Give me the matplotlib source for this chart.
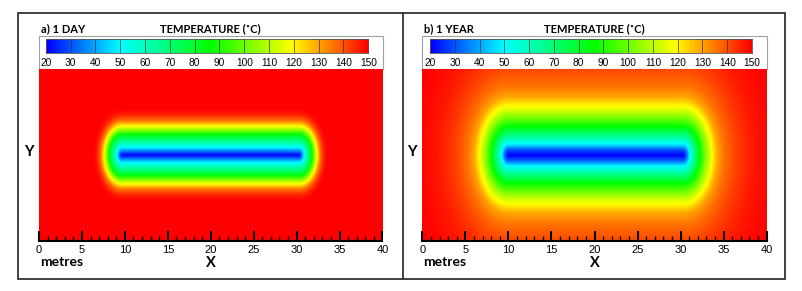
import numpy as np
import matplotlib
matplotlib.use("Agg")
import matplotlib.pyplot as plt
from matplotlib.colors import LinearSegmentedColormap
from matplotlib.patches import Rectangle
from matplotlib.lines import Line2D

# --- data ---
panel_titles = ["a) 1 DAY", "b) 1 YEAR"]
cbar_ticks = [20, 30, 40, 50, 60, 70, 80, 90, 100, 110, 120, 130, 140, 150]
x_ticks = [0, 5, 10, 15, 20, 25, 30, 35, 40]

# temperature vs. distance from the heater line (m -> degC)
day_dist = [0, 0.3, 0.9, 1.6, 2.3, 2.8, 3.3, 4.0, 4.7, 5.4, 8.0]
day_temp = [20, 30, 50, 66, 82, 100, 117, 136, 146, 150, 150]
year_dist = [0, 0.6, 1.3, 2.2, 3.2, 4.3, 5.5, 6.8, 8.1, 10, 12, 14, 17, 20, 30]
year_temp = [20, 30, 50, 66, 84, 101, 117, 130, 136, 141, 144.5, 147, 149, 150, 150]

# heater segment (x from, x to, y) and stretch of isotherms beyond its tips
day_heater = [9.6, 30.3, 10.0]
year_heater = [10.0, 30.3, 10.0]
day_stretch = 1.65
year_stretch = 1.7

W, H = 803, 291
fig = plt.figure(figsize=(W / 100, H / 100), dpi=100)

cmap = LinearSegmentedColormap.from_list("tec", [
    (0.0, (0, 0, 1)),
    ((50 - 20) / 130, (0, 1, 1)),
    ((86 - 20) / 130, (0, 1, 0)),
    ((119 - 20) / 130, (1, 1, 0)),
    (1.0, (1, 0, 0)),
])


def rect(x0, y0, x1, y1):
    return [x0 / W, 1 - y1 / H, (x1 - x0) / W, (y1 - y0) / H]


def field(heater, stretch, dist, temp):
    xs = np.linspace(0, 40, 801)
    ys = np.linspace(0, 20, 401)
    X, Y = np.meshgrid(xs, ys)
    dx = np.maximum(np.maximum(heater[0] - X, X - heater[1]), 0)
    dy = np.abs(Y - heater[2])
    d = np.sqrt((stretch * dx) ** 2 + dy ** 2)
    return np.interp(d, dist, temp)


# outer frame and divider
fig.add_artist(Rectangle((18 / W, 1 - 279 / H), (785 - 18) / W, (279 - 13) / H,
                         transform=fig.transFigure, fill=False,
                         edgecolor="#333333", linewidth=1.3))
fig.add_artist(Line2D([403 / W, 403 / W], [1 - 279 / H, 1 - 13 / H],
                      transform=fig.transFigure, color="#333333", linewidth=1.3))

panels = [
    (39, 382.5, 45.7, 368.3, day_heater, day_stretch, day_dist, day_temp),
    (422.3, 766.7, 430, 752, year_heater, year_stretch, year_dist, year_temp),
]

title_font = dict(family="Lato", weight="bold")

for i, (px0, px1, cx0, cx1, heater, stretch, dist, temp) in enumerate(panels):
    T = field(heater, stretch, dist, temp)

    ax = fig.add_axes(rect(px0, 69, px1, 241))
    ax.imshow(T, cmap=cmap, vmin=20, vmax=150, origin="lower",
              extent=[0, 40, 0, 20], aspect="auto", interpolation="bilinear")
    ax.set_xlim(0, 40)
    ax.set_ylim(0, 20)
    for s in ["top", "left", "right"]:
        ax.spines[s].set_visible(False)
    ax.spines["bottom"].set_linewidth(1.5)
    ax.set_yticks([])
    ax.set_xticks(x_ticks)
    ax.set_xticks(range(0, 41), minor=True)
    ax.tick_params(axis="x", which="major", direction="in", length=7, width=1.5,
                   labelsize=8, pad=3.2)
    ax.tick_params(axis="x", which="minor", direction="in", length=3.5, width=1)
    for lab in ax.get_xticklabels():
        lab.set_family("Liberation Sans")

    # colorbar box
    fig.add_artist(Rectangle((px0 / W, 1 - 69 / H), (px1 - px0) / W, (69 - 36) / H,
                             transform=fig.transFigure, facecolor="white",
                             edgecolor="#a0a0a0", linewidth=0.8, zorder=0))
    cax = fig.add_axes(rect(cx0, 38.7, cx1, 53.3))
    grad = np.linspace(20, 150, 520).reshape(1, -1)
    cax.imshow(grad, cmap=cmap, vmin=20, vmax=150, extent=[20, 150, 0, 1],
               aspect="auto")
    for v in cbar_ticks[1:-1]:
        cax.axvline(v, color="#333333", linewidth=0.6, alpha=0.8)
    for s in cax.spines.values():
        s.set_color("#555555")
        s.set_linewidth(0.6)
    cax.set_yticks([])
    cax.set_xticks(cbar_ticks)
    cax.set_xticklabels([str(v) for v in cbar_ticks], family="Liberation Sans")
    cax.tick_params(axis="x", length=0, labelsize=7.3, pad=3.5)

    mid = (px0 + px1) / 2
    fig.text((px0 + 2) / W, 1 - 28.7 / H, panel_titles[i], fontsize=8,
             va="center", ha="left", **title_font)
    fig.text(mid / W, 1 - 28.7 / H, "TEMPERATURE (˚C)", fontsize=8,
             va="center", ha="center", **title_font)
    fig.text((px0 + 1) / W, 1 - 261.5 / H, "metres", fontsize=10,
             va="center", ha="left", **title_font)
    fig.text(mid / W, 1 - 263 / H, "X", fontsize=10.5,
             va="center", ha="center", **title_font)
    fig.text((px0 - 10) / W, 1 - 152 / H, "Y", fontsize=10.5,
             va="center", ha="center", **title_font)

fig.savefig("out.png", dpi=100)
